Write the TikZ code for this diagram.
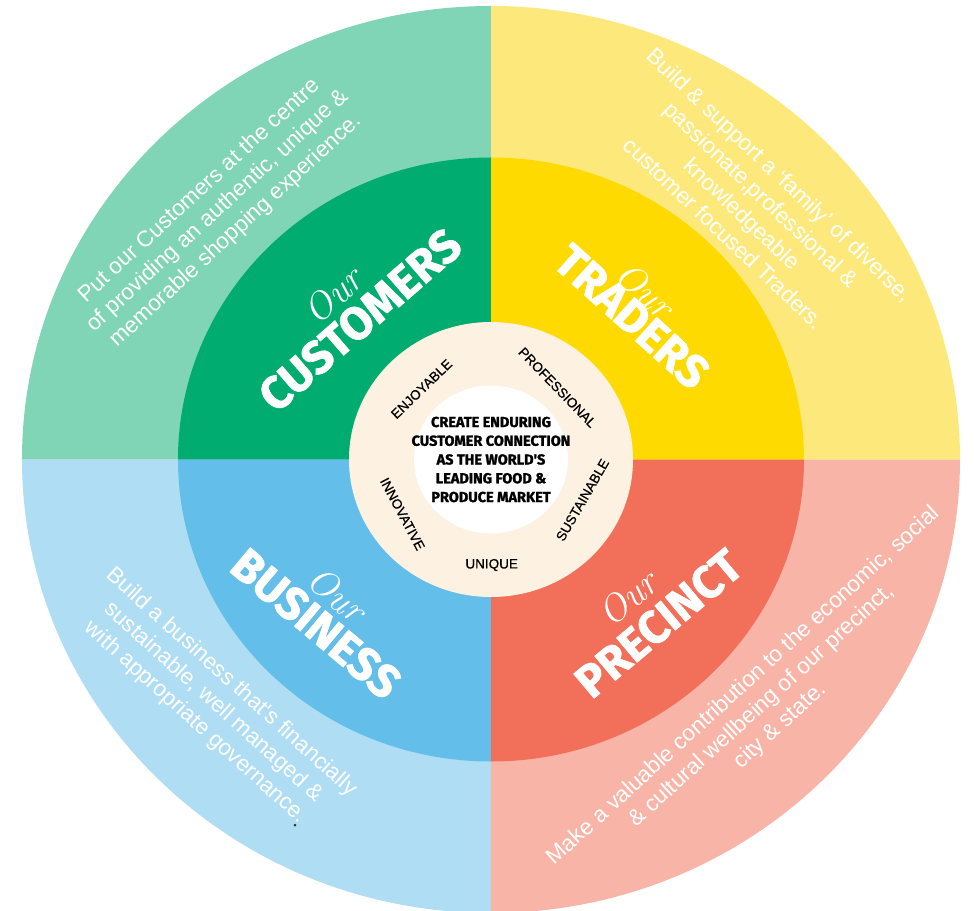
\documentclass[tikz,border=0pt]{standalone}
\usepackage{fontspec}
\newfontfamily\bodyfont{Liberation Sans}
\newfontfamily\ringfont{Liberation Sans}[FakeBold=0.6]
\newfontfamily\headfont{Fira Sans}[BoldFeatures={FakeBold=1.5}]

\begin{document}
\begin{tikzpicture}[x=1pt, y=1pt,
    headword/.style={text=white, inner sep=0pt, font=\headfont\bfseries\fontsize{46}{46}\selectfont},
    ourword/.style={text=white, inner sep=0pt, font=\itshape\fontsize{38}{38}\selectfont},
    bodytext/.style={text=white, inner sep=0pt, align=center, font=\bodyfont\fontsize{22.5}{27}\selectfont},
    ringword/.style={text=black, inner sep=0pt, font=\ringfont\fontsize{13.5}{13.5}\selectfont},
    missiontext/.style={text=black, inner sep=0pt, align=center, font=\headfont\bfseries\fontsize{14.5}{18.75}\selectfont}]
    % quadrant colours (light = outer ring, dark = middle ring)
    \definecolor{custlight}{RGB}{127,213,181}
    \definecolor{custdark}{RGB}{0,172,111}
    \definecolor{tradlight}{RGB}{253,233,123}
    \definecolor{traddark}{RGB}{255,218,0}
    \definecolor{busilight}{RGB}{175,221,244}
    \definecolor{busidark}{RGB}{100,190,234}
    \definecolor{precilight}{RGB}{247,180,167}
    \definecolor{precidark}{RGB}{242,112,89}
    \definecolor{cream}{RGB}{253,241,225}
    % page frame, bottom of the wheel is cut off
    \clip (-491,-450.5) rectangle (483,459.5);
    \fill[white] (-491,-450.5) rectangle (483,459.5);
    % outer ring: four quarters
    \fill[custlight] (0,0) -- (-469,0) arc[start angle=180, end angle=90, x radius=469pt, y radius=453.5pt] -- cycle;
    \fill[tradlight] (0,0) -- (0,453.5) arc[start angle=90, end angle=0, x radius=469pt, y radius=453.5pt] -- cycle;
    \fill[busilight] (0,0) -- (-469,0) arc[start angle=180, end angle=270, x radius=469pt, y radius=453.5pt] -- cycle;
    \fill[precilight] (0,0) -- (0,-453.5) arc[start angle=270, end angle=360, x radius=469pt, y radius=453.5pt] -- cycle;
    % middle ring: four quarters
    \fill[custdark] (0,0) -- (-313,0) arc[start angle=180, end angle=90, x radius=313pt, y radius=302pt] -- cycle;
    \fill[traddark] (0,0) -- (0,302) arc[start angle=90, end angle=0, x radius=313pt, y radius=302pt] -- cycle;
    \fill[busidark] (0,0) -- (-313,0) arc[start angle=180, end angle=270, x radius=313pt, y radius=302pt] -- cycle;
    \fill[precidark] (0,0) -- (0,-302) arc[start angle=270, end angle=360, x radius=313pt, y radius=302pt] -- cycle;
    % inner rings
    \fill[cream] (0,0) ellipse[x radius=142pt, y radius=137.5pt];
    \fill[white] (0,0) ellipse[x radius=77pt, y radius=74pt];
    % mission in the middle
    \node[missiontext] (mission) at (0,0) {CREATE ENDURING\\CUSTOMER CONNECTION\\AS THE WORLD'S\\LEADING FOOD \&\\PRODUCE MARKET};
    % values round the cream ring
    \node[ringword, rotate=44] (enjoy) at (-69.5,70.5) {ENJOYABLE};
    \node[ringword, rotate=-46] (profess) at (66.5,72) {PROFESSIONAL};
    \node[ringword, rotate=60] (sustain) at (91.5,-40.5) {SUSTAINABLE};
    \node[ringword] (unique) at (0.7,-105.5) {UNIQUE};
    \node[ringword, rotate=-62] (innov) at (-88.5,-54.5) {INNOVATIVE};
    % headings in the middle ring
    \node[headword, rotate=41] (custhead) at (-131,139.5) {CUSTOMERS};
    \node[ourword, rotate=42] (custour) at (-158,164.5) {Our};
    \node[headword, rotate=-42] (tradhead) at (141,143) {TRADERS};
    \node[ourword, rotate=-42] (tradour) at (154,169.5) {Our};
    \node[headword, rotate=-40] (busihead) at (-175,-164) {BUSINESS};
    \node[ourword, rotate=-40] (busiour) at (-154,-135) {Our};
    \node[headword, rotate=40] (precihead) at (167.5,-164) {PRECINCT};
    \node[ourword, rotate=40] (preciour) at (137,-138.5) {Our};
    % statements in the outer ring
    \node[bodytext, rotate=42.6] (custtext) at (-273,248.5) {Put our Customers at the centre\\of providing an authentic, unique \&\\memorable shopping experience.};
    \node[bodytext, rotate=-43.5] (tradtext) at (261,255.5) {Build \& support a ‘family’ of diverse,\\passionate,professional \&\\knowledgeable\\customer focused Traders.};
    \node[bodytext, rotate=-42] (busitext) at (-277.5,-243) {Build a business that's financially\\sustainable, well managed \&\\with appropriate governance.};
    \node[bodytext, rotate=42.3] (precitext) at (271,-246.5) {Make a valuable contribution to the economic, social\\\& cultural wellbeing of our precinct,\\city \& state.};
    % stray dot under the business statement
    \fill[black!80] (-196,-365.5) circle[radius=1.5pt];
\end{tikzpicture}
\end{document}
